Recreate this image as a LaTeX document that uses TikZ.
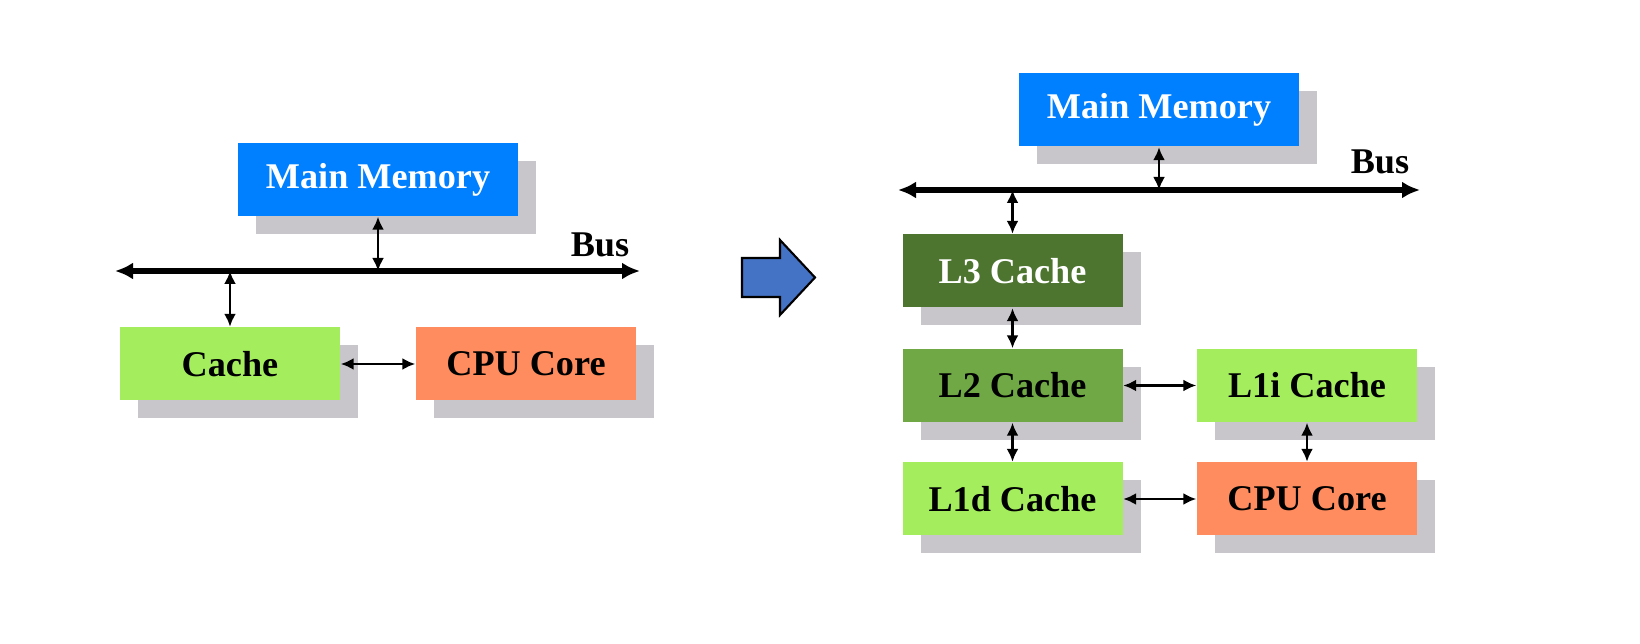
\documentclass[tikz,border=0pt]{standalone}
\usepackage{fontspec}
\setmainfont{Liberation Serif}
\usetikzlibrary{arrows.meta,shadows}
\definecolor{memblue}{HTML}{0080FF}
\definecolor{lthree}{HTML}{4E7530}
\definecolor{ltwo}{HTML}{6FA845}
\definecolor{lone}{HTML}{A4EE5E}
\definecolor{coreorange}{HTML}{FF8C5E}
\definecolor{shadowgray}{HTML}{C8C6CA}
\definecolor{blockblue}{HTML}{4472C4}
\begin{document}
\begin{tikzpicture}[
  box/.style={minimum width=2.2cm,minimum height=0.73cm,inner sep=0pt,
    font=\fontsize{10.3}{12}\selectfont\bfseries,
    drop shadow={shadow xshift=0.18cm,shadow yshift=-0.18cm,fill=shadowgray,opacity=1}},
  membox/.style={box,fill=memblue,text=white,minimum width=2.8cm},
  link/.style={{Latex[length=0.13cm,width=0.12cm]}-{Latex[length=0.13cm,width=0.12cm]},line width=0.7pt},
  busline/.style={{Latex[length=0.18cm,width=0.17cm]}-{Latex[length=0.18cm,width=0.17cm]},line width=1.5pt},
  buslabel/.style={font=\fontsize{10.3}{12}\selectfont\bfseries}]
 \useasboundingbox (0,0) rectangle (16.4,6.44);
 % left: single cache
 \node[membox] (mem) at (3.78,4.645) {Main Memory};
 \node[box,fill=lone] (cache) at (2.30,2.80) {Cache};
 \node[box,fill=coreorange] (core) at (5.26,2.80) {CPU Core};
 \coordinate (busW) at (1.15,3.73);
 \coordinate (busE) at (6.40,3.73);
 \draw[busline] (busW) -- (busE);
 \node[buslabel] (bus) at (6.00,3.99) {Bus};
 \draw[link] (mem.south) -- (mem.south |- busW);
 \draw[link] (cache.north |- busW) -- (cache.north);
 \draw[link] (cache) -- (core);
 % block arrow
 \draw[fill=blockblue,line width=0.6pt,line join=miter] (7.42,3.86) -- (7.80,3.86) -- (7.80,4.04)
   -- (8.15,3.665) -- (7.80,3.29) -- (7.80,3.47) -- (7.42,3.47) -- cycle;
 % right: three levels
 \node[membox] (mem2) at (11.59,5.34) {Main Memory};
 \node[box,fill=lthree,text=white] (l3) at (10.125,3.73) {L3 Cache};
 \node[box,fill=ltwo] (l2) at (10.125,2.585) {L2 Cache};
 \node[box,fill=lone] (l1d) at (10.125,1.45) {L1d Cache};
 \node[box,fill=lone] (l1i) at (13.07,2.585) {L1i Cache};
 \node[box,fill=coreorange] (core2) at (13.07,1.45) {CPU Core};
 \coordinate (bus2W) at (8.98,4.54);
 \coordinate (bus2E) at (14.20,4.54);
 \draw[busline] (bus2W) -- (bus2E);
 \node[buslabel] (bus2) at (13.80,4.82) {Bus};
 \draw[link] (mem2.south) -- (mem2.south |- bus2W);
 \draw[link] (l3.north |- bus2W) -- (l3.north);
 \draw[link] (l3) -- (l2);
 \draw[link] (l2) -- (l1d);
 \draw[link] (l2) -- (l1i);
 \draw[link] (l1i) -- (core2);
 \draw[link] (l1d) -- (core2);
\end{tikzpicture}
\end{document}
